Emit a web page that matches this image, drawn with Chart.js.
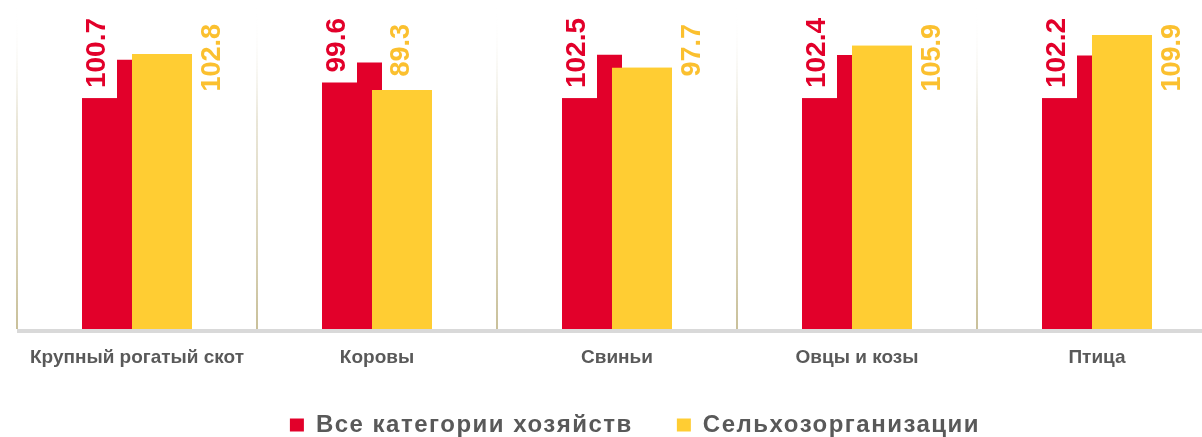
<!DOCTYPE html>
<html>
<head>
<meta charset="utf-8">
<script src="https://cdn.jsdelivr.net/npm/chart.js@4.4.1/dist/chart.umd.min.js"></script>
<style>
  html, body { margin: 0; padding: 0; background: #fff; overflow: hidden; }
  #wrap { width: 1253px; height: 437px; position: relative; }
</style>
</head>
<body>
<div id="wrap"><canvas id="chart"></canvas></div>
<script>
// --- Data ---
const categories = ['Крупный рогатый скот', 'Коровы', 'Свиньи', 'Овцы и козы', 'Птица'];
const allFarms = [100.7, 99.6, 102.5, 102.4, 102.2];
const agriOrgs = [102.8, 89.3, 97.7, 105.9, 109.9];
const seriesNames = ['Все категории хозяйств', 'Сельхозорганизации'];

const RED = '#e2002a';
const YELLOW = '#ffcd33';
const YELLOW_TEXT = '#fbc02f';
const GREY = '#595959';
const FONT = 'Arial, "Liberation Sans", sans-serif';

// bottom axis band
const axisBand = {
    id: 'axisBand',
    beforeDatasetsDraw(chart) {
        const { ctx, chartArea } = chart;
        ctx.save();
        ctx.fillStyle = '#d9d9d9';
        ctx.fillRect(chartArea.left, chartArea.bottom, chartArea.right - chartArea.left, 4);
        ctx.restore();
    }
};

// yellow bars sit on top of the red ones
const yellowOnTop = {
    id: 'yellowOnTop',
    afterDatasetDraw(chart, args) {
        if (args.index === 0) chart.getDatasetMeta(1).controller.draw();
    }
};

// rotated value labels
const valueLabels = {
    id: 'valueLabels',
    afterDatasetsDraw(chart) {
        const { ctx, chartArea } = chart;
        ctx.save();

        // red series: top aligned, white box over the bar
        ctx.font = 'bold 28px ' + FONT;
        chart.getDatasetMeta(0).data.forEach((bar, i) => {
            const txt = allFarms[i].toFixed(1);
            const w = ctx.measureText(txt).width;
            const left = bar.x - bar.width / 2;
            const top = chartArea.top + 10;
            ctx.fillStyle = '#fff';
            ctx.fillRect(left, 0, 35, top + w + 10);
            ctx.save();
            ctx.translate(left + 15, top);
            ctx.rotate(-Math.PI / 2);
            ctx.fillStyle = RED;
            ctx.textAlign = 'right';
            ctx.textBaseline = 'middle';
            ctx.fillText(txt, 0, 0);
            ctx.restore();
        });

        // yellow series: above the bar if room, otherwise to its right
        ctx.font = 'bold 27px ' + FONT;
        chart.getDatasetMeta(1).data.forEach((bar, i) => {
            const txt = agriOrgs[i].toFixed(1);
            const w = ctx.measureText(txt).width;
            const top = chartArea.top + 16;
            let cx = bar.x + bar.width / 2 + 21;
            if (bar.y >= top + w + 10) cx = bar.x;
            ctx.save();
            ctx.translate(cx, top);
            ctx.rotate(-Math.PI / 2);
            ctx.fillStyle = YELLOW_TEXT;
            ctx.textAlign = 'right';
            ctx.textBaseline = 'middle';
            ctx.fillText(txt, 0, 0);
            ctx.restore();
        });
        ctx.restore();
    }
};

function gridGradient(c) {
    const { ctx, chartArea } = c.chart;
    if (!chartArea) return 'rgba(0,0,0,0)';
    const g = ctx.createLinearGradient(0, chartArea.top, 0, chartArea.bottom);
    g.addColorStop(0, 'rgba(255,255,255,0)');
    g.addColorStop(0.35, 'rgba(220,214,190,0.6)');
    g.addColorStop(1, '#c9c09a');
    return g;
}

// legend text in the original is set wide: letter spacing + fixed legend height
function spacedLegend(chart, spacing, height) {
    const lg = chart.legend;
    const fit = lg.fit, draw = lg.draw;
    lg.fit = function () {
        chart.ctx.letterSpacing = spacing;
        fit.call(this);
        chart.ctx.letterSpacing = '0px';
        this.height = height;
    };
    lg.draw = function () {
        chart.ctx.letterSpacing = spacing;
        draw.call(this);
        chart.ctx.letterSpacing = '0px';
    };
}

const chart = new Chart(document.getElementById('chart'), {
    type: 'bar',
    data: {
        labels: categories,
        datasets: [
            { label: seriesNames[0], data: allFarms, backgroundColor: RED },
            { label: seriesNames[1], data: agriOrgs, backgroundColor: YELLOW }
        ]
    },
    options: {
        responsive: true,
        maintainAspectRatio: false,
        animation: false,
        categoryPercentage: 100 / 240,
        barPercentage: 1.2,
        layout: { padding: { left: 17, top: 8, right: 0, bottom: 0 } },
        plugins: {
            tooltip: { enabled: false },
            legend: {
                position: 'bottom',
                labels: {
                    boxWidth: 14,
                    boxHeight: 13,
                    padding: 44,
                    color: GREY,
                    font: { family: FONT, size: 24, weight: 'bold' }
                }
            }
        },
        scales: {
            x: {
                offset: true,
                grid: { offset: true, color: gridGradient, lineWidth: 2, drawTicks: false },
                border: { display: false },
                ticks: {
                    padding: 17,
                    color: GREY,
                    font: { family: FONT, size: 19, weight: 'bold' }
                },
                afterFit(scale) { scale.height = 40; }
            },
            y: {
                position: 'right',
                min: 0,
                max: 120,
                grid: { display: false },
                border: { display: false },
                ticks: { display: false },
                afterFit(scale) { scale.width = 36; }
            }
        }
    },
    plugins: [axisBand, yellowOnTop, valueLabels]
});
spacedLegend(chart, '1.5px', 68);
chart.update();
</script>
</body>
</html>
